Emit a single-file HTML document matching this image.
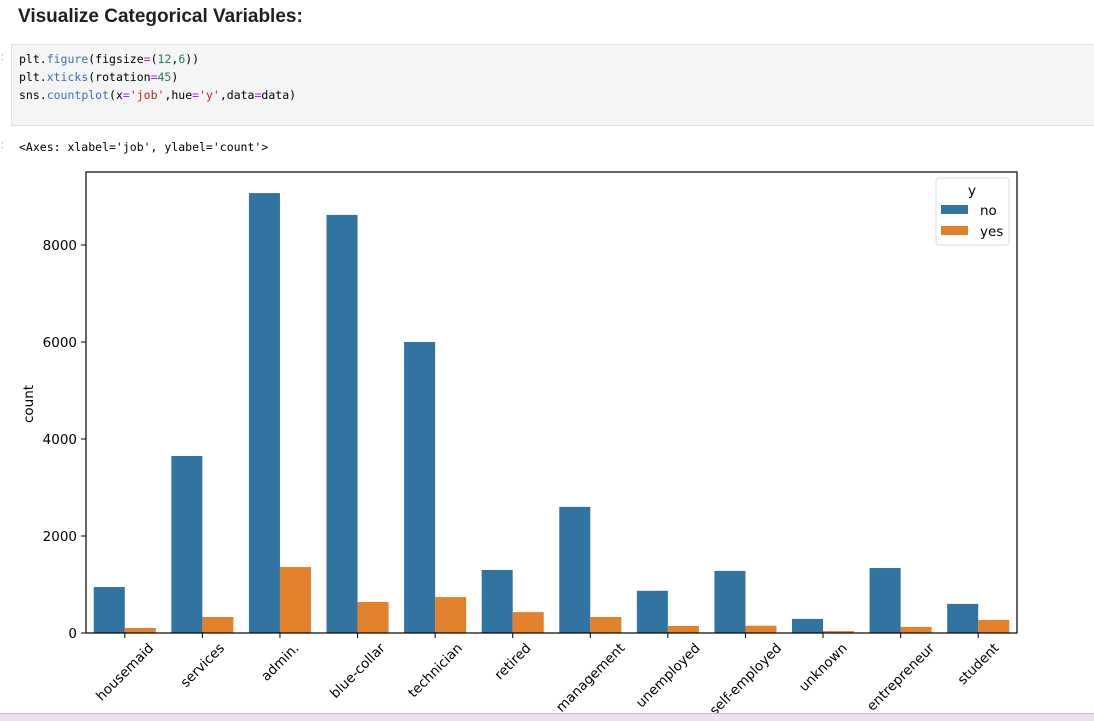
<!DOCTYPE html>
<html><head><meta charset="utf-8"><style>
body{margin:0;width:1094px;height:720px;overflow:hidden;background:#fff;font-family:"Liberation Sans",sans-serif;position:relative}
h2{position:absolute;left:18px;top:6px;margin:0;font-size:19px;font-weight:bold;color:#1f1f1f;font-family:"Liberation Sans",sans-serif}
.code{position:absolute;left:11px;top:44px;width:1090px;height:82px;background:#f5f5f5;border:1px solid #e0e0e0;box-sizing:border-box;font-family:"DejaVu Sans Mono","Liberation Mono",monospace;font-size:11.5px;line-height:18px;padding:5px 7px;color:#000}
.k{color:#3b6fb6}.n{color:#208050}.s{color:#b22}.o{color:#a2f}
.out{position:absolute;left:19px;top:140px;font-family:"DejaVu Sans Mono","Liberation Mono",monospace;font-size:11.5px}
.p{position:absolute;left:1px;font-size:10px;color:#888}
svg{position:absolute;left:0;top:0;font-family:"DejaVu Sans","Liberation Sans",sans-serif}
.strip{position:absolute;left:0;top:713px;width:1094px;height:7px;background:#ebe2ec;border-top:1px solid #c8bcc9}
</style></head><body>
<h2>Visualize Categorical Variables:</h2>
<div class="p" style="top:52px">:</div><div class="p" style="top:140px">:</div>
<div class="code">plt.<span class="k">figure</span>(figsize<span class="o">=</span>(<span class="n">12</span>,<span class="n">6</span>))<br>plt.<span class="k">xticks</span>(rotation<span class="o">=</span><span class="n">45</span>)<br>sns.<span class="k">countplot</span>(x<span class="o">=</span><span class="s">'job'</span>,hue<span class="o">=</span><span class="s">'y'</span>,data<span class="o">=</span>data)</div>
<div class="out">&lt;Axes: xlabel='job', ylabel='count'&gt;</div>
<svg id="chart" width="1094" height="720"></svg>
<div class="strip"></div>
<script>
const categories=["housemaid","services","admin.","blue-collar","technician","retired","management","unemployed","self-employed","unknown","entrepreneur","student"];
const noValues=[948,3650,9070,8620,6000,1300,2600,870,1280,290,1340,600];
const yesValues=[103,330,1360,640,740,430,330,145,150,40,125,270];
const yTicks=[0,2000,4000,6000,8000];
const L=86,R=1017,T=172,B=633,yMax=9505;
const svg=document.getElementById('chart');const NS='http://www.w3.org/2000/svg';
const step=(R-L)/categories.length;
const x=i=>L+step*(i+0.5);
const y=v=>B-v*(B-T)/yMax;
function mk(t,a){const e=document.createElementNS(NS,t);for(const k in a)e.setAttribute(k,a[k]);svg.appendChild(e);return e;}
categories.forEach((c,i)=>{
 const w=step*0.4;
 let r=mk('rect',{x:x(i)-w,y:y(noValues[i]),width:w,height:B-y(noValues[i]),fill:'#3274a1'});
 
 
 r=mk('rect',{x:x(i),y:y(yesValues[i]),width:w,height:B-y(yesValues[i]),fill:'#e1812c'});
 
 
 mk('line',{x1:x(i),x2:x(i),y1:B,y2:B+5,stroke:'#000','stroke-width':1});
 const t=mk('text',{x:0,y:0,'text-anchor':'middle','font-size':13.5,fill:'#000'});
 t.textContent=c;
 const tw=t.getComputedTextLength();
 const cy=B+8+(tw+13)*0.7071/2;
 t.setAttribute('x',x(i));t.setAttribute('y',cy+4.5);
 t.setAttribute('transform',`rotate(-45 ${x(i)} ${cy})`);
 
 
});
yTicks.forEach(v=>{
 mk('line',{x1:L-5,x2:L,y1:y(v),y2:y(v),stroke:'#000'});
 const t=mk('text',{x:L-9,y:y(v)+5,'text-anchor':'end','font-size':13.5});
 t.textContent=v;
 
 
});
const f=mk('rect',{x:L,y:T,width:R-L,height:B-T,fill:'none',stroke:'#000','stroke-width':1.2});


const yl=mk('text',{x:33,y:404,'text-anchor':'middle','font-size':13.5,transform:'rotate(-90 33 404)'});
yl.textContent='count';


const lg=mk('rect',{x:936,y:178,width:73,height:67,rx:3,fill:'#fff',stroke:'#ddd'});


const lt=mk('text',{x:972,y:195,'text-anchor':'middle','font-size':13.5});lt.textContent='y';


[['no','#3274a1',210],['yes','#e1812c',231]].forEach(([n,c,yy])=>{
 mk('rect',{x:941,y:yy-5,width:27,height:9,fill:c});
 const t=mk('text',{x:980,y:yy+5,'font-size':13.5});t.textContent=n;
 
 
});
</script>
</body></html>
